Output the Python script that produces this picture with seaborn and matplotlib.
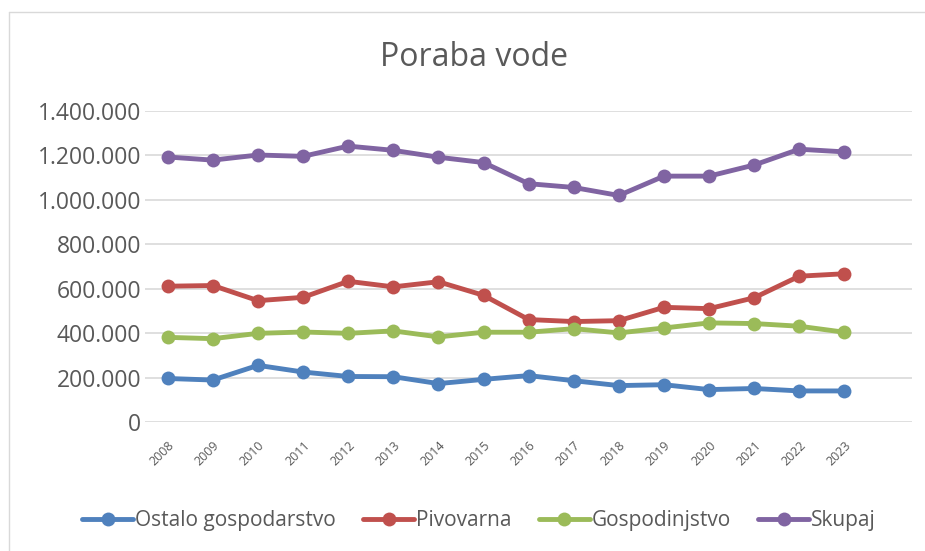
import numpy as np
import pandas as pd
import matplotlib.pyplot as plt
import seaborn as sns
from matplotlib.lines import Line2D
from matplotlib.ticker import FuncFormatter


# podatki

LETA = [str(leto) for leto in range(2008, 2024)]

OSTALO = [196000, 189000, 255000, 225000, 205000, 204000, 173000, 192000,
          209000, 186000, 164000, 168000, 146000, 151000, 140000, 140000]
PIVOVARNA = [611000, 614000, 546000, 561000, 633000, 608000, 631000, 570000,
             461000, 452000, 456000, 516000, 510000, 559000, 656000, 667000]
GOSPODINJSTVO = [381000, 375000, 399000, 405000, 399000, 410000, 383000, 404000,
                 404000, 420000, 401000, 423000, 446000, 443000, 431000, 404000]
SKUPAJ = [1192000, 1178000, 1201000, 1195000, 1241000, 1222000, 1191000, 1167000,
          1072000, 1055000, 1019000, 1106000, 1106000, 1156000, 1227000, 1215000]

SERIJE = ["Ostalo gospodarstvo", "Pivovarna", "Gospodinjstvo", "Skupaj"]
BARVE = ["#4F81BD", "#C0504D", "#9BBB59", "#8064A2"]
SIVA = "#595959"


def pripravi_podatke() -> pd.DataFrame:
    vrednosti = [OSTALO, PIVOVARNA, GOSPODINJSTVO, SKUPAJ]
    vrstice = []
    for ime, serija in zip(SERIJE, vrednosti):
        for i, v in enumerate(serija):
            vrstice.append({"poz": i, "leto": LETA[i], "serija": ime, "vrednost": v})
    return pd.DataFrame(vrstice)


def main() -> None:
    sns.set_theme(style="white")
    plt.rcParams["font.family"] = ["Open Sans", "DejaVu Sans"]

    dados = pripravi_podatke()

    fig = plt.figure(figsize=(9.25, 5.51), dpi=100)
    ax = fig.add_axes([0.157, 0.234, 0.829, 0.565])

    sns.lineplot(
        data=dados, x="poz", y="vrednost", hue="serija",
        hue_order=SERIJE, palette=BARVE, marker="o",
        markersize=10, markeredgewidth=0, linewidth=3.5,
        legend=False, ax=ax,
    )

    ax.set_xlim(-0.5, 16.5)
    ax.set_ylim(0, 1400000)
    ax.set_yticks(np.arange(0, 1400001, 200000))
    ax.yaxis.set_major_formatter(
        FuncFormatter(lambda v, _: f"{int(v):,}".replace(",", "."))
    )
    ax.set_xticks(range(len(LETA)))
    ax.set_xticklabels(LETA, rotation=45, ha="right", rotation_mode="anchor",
                       fontsize=9, color=SIVA)
    ax.tick_params(axis="y", labelsize=16.5, colors=SIVA, length=0, pad=3)
    ax.tick_params(axis="x", length=0, pad=12)
    ax.grid(axis="y", color="#D9D9D9", linewidth=1.2)
    ax.set_axisbelow(True)
    for lado in ax.spines.values():
        lado.set_visible(False)
    ax.set_xlabel("")
    ax.set_ylabel("")

    fig.text(0.512, 0.895, "Poraba vode", ha="center", va="center",
             fontsize=23, color=SIVA)

    rocice = [
        Line2D([], [], color=c, linewidth=3.5, marker="o",
               markersize=10, markeredgewidth=0)
        for c in BARVE
    ]
    fig.legend(rocice, SERIJE, loc="center", bbox_to_anchor=(0.518, 0.055),
               ncol=4, frameon=False, fontsize=15, labelcolor=SIVA,
               handlelength=2.45, handletextpad=0.1, columnspacing=1.3)

    # okvir grafikona (vidna sta le levi in zgornji rob)
    fig.add_artist(Line2D([8.5 / 925, 8.5 / 925], [0, 1 - 12 / 551],
                          transform=fig.transFigure, color="#D9D9D9", linewidth=1))
    fig.add_artist(Line2D([8.5 / 925, 1], [1 - 12 / 551, 1 - 12 / 551],
                          transform=fig.transFigure, color="#D9D9D9", linewidth=1))

    fig.savefig("out.png", dpi=100)


if __name__ == "__main__":
    main()
